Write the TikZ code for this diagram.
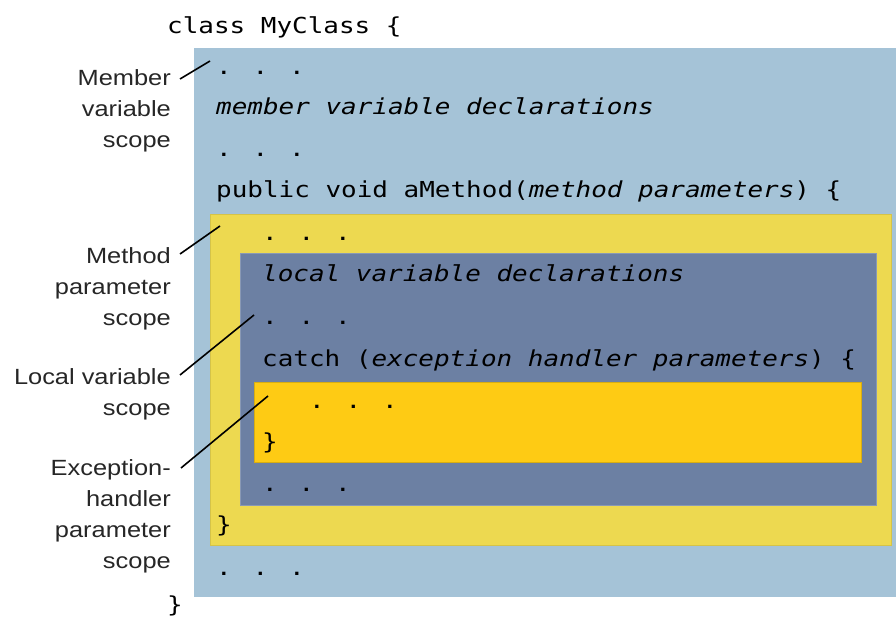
\documentclass[tikz,border=0pt]{standalone}
\usepackage{fontspec}
\newfontfamily\codefont[FakeStretch=1.18]{DejaVu Sans Mono}
\newfontfamily\labelfont[FakeStretch=1.155]{Liberation Sans}

\definecolor{memberblue}{RGB}{165,195,215}
\definecolor{methodyellow}{RGB}{237,217,80}
\definecolor{localslate}{RGB}{108,128,163}
\definecolor{handlergold}{RGB}{254,203,20}

\tikzset{
  code/.style={anchor=base west, inner sep=0pt, font=\codefont\fontsize{22}{22}\selectfont},
  scopelabel/.style={anchor=base east, inner sep=0pt, align=right, text=black!85,
    font=\labelfont\fontsize{22}{31}\selectfont},
  leader/.style={line width=1.6pt}
}

\begin{document}
\begin{tikzpicture}[x=1pt, y=-1pt]
\useasboundingbox (0,0) rectangle (896,617);

\fill[memberblue] (194, 48) rectangle (896, 597);
\draw[fill=methodyellow, draw=methodyellow!90!black, line width=0.4pt] (210, 214) rectangle (891, 545);
\draw[fill=localslate, draw=localslate!80!white, line width=0.4pt] (240, 253) rectangle (876, 505);
\draw[fill=handlergold, draw=handlergold!85!black, line width=0.4pt] (254, 382) rectangle (861, 462);

\draw (167, 34) node[code] (head) {class MyClass \{};
\draw (216, 75) node[code] (dotsA) {. . .};
\draw (216, 115) node[code] (members) {\itshape member variable declarations};
\draw (216, 157) node[code] (dotsB) {. . .};
\draw (216, 198) node[code] (method) {public void aMethod(\textit{method parameters}) \{};
\draw (262, 241) node[code] (dotsC) {. . .};
\draw (262, 282) node[code] (locals) {\itshape local variable declarations};
\draw (262, 324) node[code] (dotsD) {. . .};
\draw (262, 366) node[code] (catch) {catch (\textit{exception handler parameters}) \{};
\draw (309, 408) node[code] (dotsE) {. . .};
\draw (262, 449) node[code] (closeCatch) {\}};
\draw (262, 491) node[code] (dotsF) {. . .};
\draw (216, 532) node[code] (closeMethod) {\}};
\draw (216, 575) node[code] (dotsG) {. . .};
\draw (167, 612) node[code] (closeClass) {\}};

% labels sit on the baseline of their last line
\draw (171, 148) node[scopelabel] (memberScope) {Member\\variable\\scope};
\draw (171, 325) node[scopelabel] (methodScope) {Method\\parameter\\scope};
\draw (171, 415) node[scopelabel] (localScope) {Local variable\\scope};
\draw (171, 568) node[scopelabel] (handlerScope) {Exception-\\handler\\parameter\\scope};

\coordinate (memberTip) at (210, 61);
\coordinate (methodTip) at (220, 226);
\coordinate (localTip) at (254, 315);
\coordinate (handlerTip) at (268, 396);

\draw[leader] ([xshift=9pt, yshift=69pt]memberScope.base east) -- (memberTip);
\draw[leader] ([xshift=9pt, yshift=71pt]methodScope.base east) -- (methodTip);
\draw[leader] ([xshift=9pt, yshift=40pt]localScope.base east) -- (localTip);
\draw[leader] ([xshift=10pt, yshift=100pt]handlerScope.base east) -- (handlerTip);

\end{tikzpicture}
\end{document}
